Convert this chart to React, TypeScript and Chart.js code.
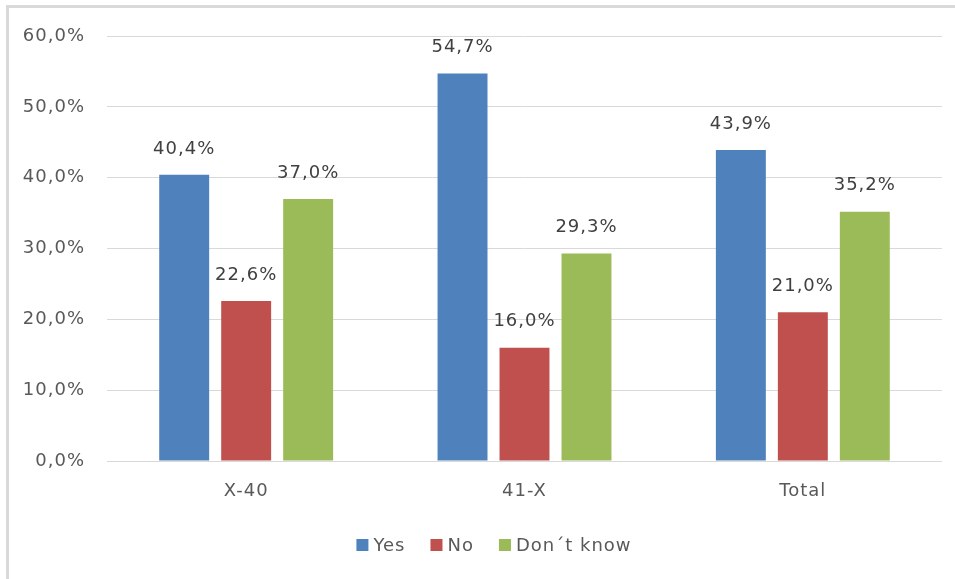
import React, { useEffect, useRef } from "react";
import { Chart, registerables } from "chart.js";

Chart.register(...registerables);

const categories = ["X-40", "41-X", "Total"];
const yesValues = [40.4, 54.7, 43.9];
const noValues = [22.6, 16.0, 21.0];
const dontKnowValues = [37.0, 29.3, 35.2];
const seriesNames = ["Yes", "No", "Don´t know"];
const seriesColors = ["#4f81bd", "#c0504d", "#9bbb59"];

const fmt = (v: number) => v.toFixed(1).replace(".", ",") + "%";
const FONT = "'DejaVu Sans', sans-serif";

const spacingPlugin = {
  id: "spacing",
  beforeLayout(chart: any) {
    chart.ctx.letterSpacing = "1px";
  },
  beforeDraw(chart: any) {
    chart.ctx.letterSpacing = "1px";
  },
};

const dataLabelPlugin = {
  id: "dataLabels",
  afterDatasetsDraw(chart: any) {
    const ctx = chart.ctx;
    ctx.save();
    ctx.font = `18px ${FONT}`;
    ctx.fillStyle = "#404040";
    ctx.textAlign = "center";
    ctx.textBaseline = "middle";
    chart.data.datasets.forEach((ds: any, i: number) => {
      const meta = chart.getDatasetMeta(i);
      meta.data.forEach((bar: any, j: number) => {
        ctx.fillText(fmt(ds.data[j]), bar.x, bar.y - 26);
      });
    });
    ctx.restore();
  },
};

const customLegendPlugin = {
  id: "customLegend",
  afterDraw(chart: any) {
    const ctx = chart.ctx;
    ctx.save();
    ctx.letterSpacing = "1px";
    ctx.font = `18px ${FONT}`;
    ctx.textBaseline = "middle";
    ctx.textAlign = "left";
    const box = 12;
    const gapText = 5;
    const gapItem = 25;
    const items = chart.data.datasets.map((ds: any) => ({
      label: ds.label,
      color: ds.backgroundColor,
      w: ctx.measureText(ds.label).width,
    }));
    const total =
      items.reduce((s: number, it: any) => s + box + gapText + it.w, 0) + gapItem * (items.length - 1);
    let x = 485 - total / 2;
    const y = 537;
    items.forEach((it: any) => {
      ctx.fillStyle = it.color;
      ctx.fillRect(x, y - box / 2, box, box);
      ctx.fillStyle = "#595959";
      ctx.fillText(it.label, x + box + gapText, y + 1);
      x += box + gapText + it.w + gapItem;
    });
    ctx.restore();
  },
};

export default function App() {
  const ref = useRef<HTMLCanvasElement>(null);
  useEffect(() => {
    if (!ref.current) return;
    const chart = new Chart(ref.current, {
      type: "bar",
      data: {
        labels: categories,
        datasets: [yesValues, noValues, dontKnowValues].map((d, i) => ({
          label: seriesNames[i],
          data: d,
          backgroundColor: seriesColors[i],
          borderWidth: 0,
          inflateAmount: 0,
          categoryPercentage: 0.668,
          barPercentage: 0.806,
        })),
      },
      options: {
        responsive: false,
        animation: false,
        layout: { padding: { top: 28, right: 13, bottom: 68, left: 0 } },
        plugins: {
          tooltip: { enabled: false },
          legend: { display: false },
        },
        scales: {
          x: {
            grid: { display: false, drawTicks: false },
            border: { display: false },
            ticks: { color: "#595959", font: { family: FONT, size: 18 }, padding: 20 },
            afterFit: (axis: any) => {
              axis.height = 50;
            },
          },
          y: {
            min: 0,
            max: 60,
            ticks: {
              stepSize: 10,
              color: "#595959",
              font: { family: FONT, size: 18 },
              padding: 0,
              callback: (v: any) => fmt(Number(v)),
            },
            grid: {
              color: "#d9d9d9",
              lineWidth: 1,
              drawTicks: true,
              tickLength: 22,
              tickColor: "rgba(0,0,0,0)",
            },
            border: { display: false },
            afterFit: (axis: any) => {
              axis.width = 98;
            },
          },
        },
      },
      plugins: [spacingPlugin, dataLabelPlugin, customLegendPlugin],
    });
    return () => chart.destroy();
  }, []);
  return (
    <div style={{ position: "fixed", left: 0, top: 0, width: 955, height: 579, overflow: "hidden", background: "#fff" }}>
      <div style={{ position: "absolute", left: 6, top: 5, width: 1000, height: 1000, border: "3px solid #d9d9d9" }} />
      <div style={{ position: "absolute", left: 9, top: 8, width: 946, height: 571 }}>
        <canvas ref={ref} width={946} height={571} style={{ display: "block" }} />
      </div>
    </div>
  );
}
